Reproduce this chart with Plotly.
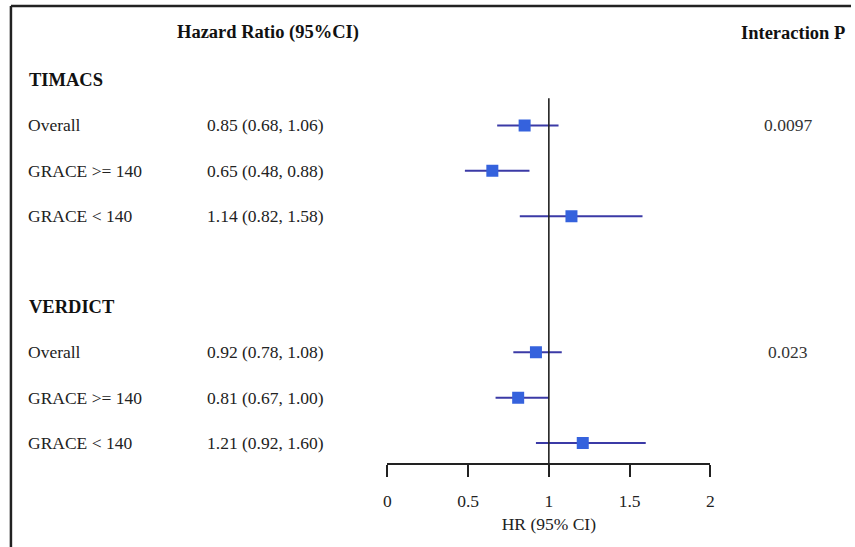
import plotly.graph_objects as go

# ---- data ----
groups = ["TIMACS", "VERDICT"]
subgroups = ["Overall", "GRACE >= 140", "GRACE < 140"]
hr_timacs = [0.85, 0.65, 1.14]
lo_timacs = [0.68, 0.48, 0.82]
hi_timacs = [1.06, 0.88, 1.58]
hr_verdict = [0.92, 0.81, 1.21]
lo_verdict = [0.78, 0.67, 0.92]
hi_verdict = [1.08, 1.00, 1.60]
p_interaction = ["0.0097", "0.023"]
x_ticks = [0, 0.5, 1, 1.5, 2]
x_tick_labels = ["0", "0.5", "1", "1.5", "2"]

W, H = 855, 547
FONT = "Liberation Serif, Times New Roman, serif"
FS = 17.5
FSB = 18.5

# rows: group header, then three subgroup rows; blank row between groups
rows_hr, rows_lo, rows_hi, rows_y, row_labels, row_texts = [], [], [], [], [], []
header_rows = []
p_rows = []
all_hr = [hr_timacs, hr_verdict]
all_lo = [lo_timacs, lo_verdict]
all_hi = [hi_timacs, hi_verdict]
r = 0
for g in range(len(groups)):
    header_rows.append(r)
    r += 1
    for k in range(len(subgroups)):
        rows_y.append(r)
        rows_hr.append(all_hr[g][k])
        rows_lo.append(all_lo[g][k])
        rows_hi.append(all_hi[g][k])
        row_labels.append(subgroups[k])
        row_texts.append(f"{all_hr[g][k]:.2f} ({all_lo[g][k]:.2f}, {all_hi[g][k]:.2f})")
        if k == 0:
            p_rows.append(r)
        r += 1
    r += 1  # blank row

fig = go.Figure()
fig.add_trace(go.Scatter(
    x=rows_hr, y=rows_y, mode="markers",
    marker=dict(symbol="square", size=12, color="#3562dd", line=dict(width=0)),
    error_x=dict(type="data", symmetric=False,
                 array=[h - m for h, m in zip(rows_hi, rows_hr)],
                 arrayminus=[m - l for m, l in zip(rows_hr, rows_lo)],
                 color="#3b3aa6", thickness=2, width=0),
    showlegend=False, hoverinfo="skip",
))

row_px0, row_step = 80, 45.375
y_bottom_px = 463
y_top_row = -row_px0 / row_step
y_bot_row = (y_bottom_px - row_px0) / row_step

# reference line at HR = 1
fig.add_shape(type="line", xref="x", yref="y", x0=1, x1=1,
              y0=0.4, y1=y_bot_row, line=dict(color="#222222", width=1.6))

ann = []
# column headers
ann.append(dict(text="<b>Hazard Ratio (95%CI)</b>", x=266 / W, y=-1.04, xref="paper", yref="y",
                xanchor="center", yanchor="middle", showarrow=False,
                font=dict(family=FONT, size=FSB, color="#111111")))
ann.append(dict(text="<b>Interaction P</b>", x=851 / W, y=-1.04, xref="paper", yref="y",
                xanchor="right", yanchor="middle", showarrow=False,
                font=dict(family=FONT, size=FSB, color="#111111")))
for g, hr_ in zip(groups, header_rows):
    ann.append(dict(text=f"<b>{g}</b>", x=23 / W, y=hr_, xref="paper", yref="y",
                    xanchor="left", yanchor="middle", showarrow=False,
                    font=dict(family=FONT, size=FSB, color="#111111")))
for lab, txt, yy in zip(row_labels, row_texts, rows_y):
    ann.append(dict(text=lab, x=22 / W, y=yy, xref="paper", yref="y",
                    xanchor="left", yanchor="middle", showarrow=False,
                    font=dict(family=FONT, size=FS, color="#222222")))
    ann.append(dict(text=txt, x=203 / W, y=yy, xref="paper", yref="y",
                    xanchor="left", yanchor="middle", showarrow=False,
                    font=dict(family=FONT, size=FS, color="#222222")))
for p, yy in zip(p_interaction, p_rows):
    ann.append(dict(text=p, x=791 / W, y=yy, xref="paper", yref="y",
                    xanchor="center", yanchor="middle", showarrow=False,
                    font=dict(family=FONT, size=FS, color="#333333")))

# frame (top and left border)
fig.add_shape(type="line", xref="paper", yref="paper", x0=7 / W, x1=1, y0=1 - 6 / H, y1=1 - 6 / H,
              line=dict(color="#222222", width=2.5))
fig.add_shape(type="line", xref="paper", yref="paper", x0=7 / W, x1=7 / W, y0=0, y1=1 - 6 / H,
              line=dict(color="#222222", width=2.5))

fig.update_layout(
    width=W, height=H,
    margin=dict(l=0, r=0, t=0, b=0),
    paper_bgcolor="white", plot_bgcolor="white",
    annotations=ann,
    xaxis=dict(domain=[387 / W, 713 / W], range=[0, 2],
               tickvals=x_ticks, ticktext=x_tick_labels,
               showline=True, linecolor="#222222", linewidth=1.8,
               ticks="outside", ticklen=12, tickwidth=1.8, tickcolor="#222222",
               ticklabelstandoff=9,
               showgrid=False, zeroline=False,
               tickfont=dict(family=FONT, size=FS, color="#222222"),
               title=dict(text="HR (95% CI)", standoff=8,
                          font=dict(family=FONT, size=FS, color="#222222"))),
    yaxis=dict(domain=[(H - y_bottom_px) / H, 1], range=[y_bot_row, y_top_row],
               visible=False, showgrid=False, zeroline=False),
)

fig.write_html("out.html", config={"displayModeBar": False},
               post_script="document.body.style.margin='0';document.body.style.overflow='hidden';")
